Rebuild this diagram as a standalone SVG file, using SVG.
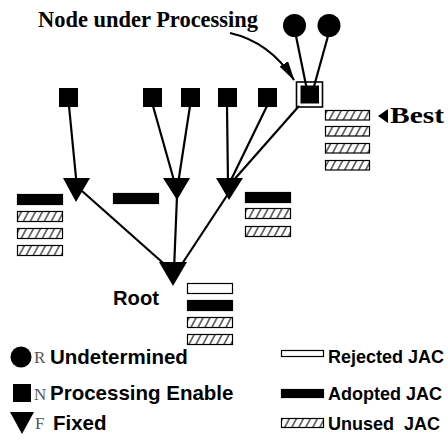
<svg xmlns="http://www.w3.org/2000/svg" width="448" height="442" viewBox="0 0 448 442">
  <style>
    .edge { stroke: #000; stroke-width: 2.2; fill: none; }
    .node { fill: #000; }
    .jac { stroke: #000; stroke-width: 1.2; }
    .unused { fill: url(#hatch); }
    .adopted { fill: #000; }
    .rejected { fill: #fff; }
    .title { font-family: "Liberation Serif", "Times New Roman", serif; font-weight: bold; font-size: 23px; fill: #000; }
    .label { font-family: "Liberation Sans", Arial, sans-serif; font-weight: bold; font-size: 20.5px; fill: #000; }
    .jac-label { font-family: "Liberation Sans", Arial, sans-serif; font-weight: bold; font-size: 18px; fill: #000; }
    .key { font-family: "Liberation Serif", "Times New Roman", serif; font-size: 17px; fill: #555; }
  </style>
  <defs>
    <pattern id="hatch" patternUnits="userSpaceOnUse" width="7" height="10" patternTransform="skewX(-28)">
      <rect width="7" height="10" fill="#fff"/>
      <line x1="1" y1="0" x2="1" y2="10" stroke="#000" stroke-width="1.2"/>
    </pattern>
    <marker id="head" viewBox="0 0 20 10" refX="19" refY="5" markerWidth="20" markerHeight="10" markerUnits="userSpaceOnUse" orient="auto">
      <path d="M0,0 L20,5 L0,10 Z" fill="#000"/>
    </marker>
  </defs>

  <!-- callout -->
  <text class="title" x="38" y="27" textLength="220" lengthAdjust="spacingAndGlyphs">Node under Processing</text>
  <path class="edge" d="M230,33 Q270,42 294,80" stroke-width="2" marker-end="url(#head)"/>

  <!-- connectors -->
  <g id="edges" class="edge">
    <line x1="296" y1="36" x2="307" y2="90"/>
    <line x1="328" y1="36" x2="313" y2="90"/>
    <line x1="69" y1="106" x2="77" y2="188"/>
    <line x1="153" y1="106" x2="175" y2="184"/>
    <line x1="190" y1="106" x2="178" y2="184"/>
    <line x1="227" y1="106" x2="228" y2="184"/>
    <line x1="267" y1="106" x2="230" y2="182"/>
    <line x1="299" y1="106" x2="232" y2="182"/>
    <line x1="82" y1="191" x2="171" y2="270"/>
    <line x1="177" y1="196" x2="174" y2="270"/>
    <line x1="228" y1="194" x2="178" y2="270"/>
  </g>

  <!-- undetermined nodes -->
  <g id="r1"><circle class="node" cx="294.5" cy="25.5" r="11.5"/></g>
  <g id="r2"><circle class="node" cx="329" cy="25.5" r="11.5"/></g>

  <!-- processing-enabled nodes -->
  <g id="n1"><rect class="node" x="59" y="88" width="19" height="19"/></g>
  <g id="n2"><rect class="node" x="143" y="88" width="19" height="19"/></g>
  <g id="n3"><rect class="node" x="181" y="88" width="19" height="19"/></g>
  <g id="n4"><rect class="node" x="218" y="88" width="19" height="19"/></g>
  <g id="n5"><rect class="node" x="258" y="88" width="19" height="19"/></g>
  <g id="n6">
    <rect x="296.5" y="82" width="26" height="25" fill="none" stroke="#000" stroke-width="1.6"/>
    <rect class="node" x="300.5" y="85.5" width="18.5" height="18"/>
  </g>

  <!-- fixed nodes -->
  <g id="f1"><polygon class="node" points="63,178 90,178 76,202"/></g>
  <g id="f2"><polygon class="node" points="163,178 190,178 177,200"/></g>
  <g id="f3"><polygon class="node" points="216,178 243,178 229,200"/></g>
  <g id="root">
    <polygon class="node" points="159,262 187,262 173,286"/>
    <text class="label" x="113" y="305" font-size="24" textLength="46" lengthAdjust="spacingAndGlyphs">Root</text>
  </g>

  <!-- JAC lists -->
  <g id="jac-best">
    <rect class="jac unused" x="325.5" y="110.5" width="44" height="9.5"/>
    <rect class="jac unused" x="325.5" y="126.5" width="44" height="9.5"/>
    <rect class="jac unused" x="325.5" y="143.5" width="44" height="9.5"/>
    <rect class="jac unused" x="325.5" y="160.5" width="44" height="9.5"/>
    <polygon points="378,116 388,109 388,123" fill="#000"/>
    <text class="title" x="390" y="123" font-size="25" textLength="54" lengthAdjust="spacingAndGlyphs">Best</text>
  </g>
  <g id="jac-f1">
    <rect class="jac adopted" x="17.5" y="194.5" width="45" height="10"/>
    <rect class="jac unused" x="17.5" y="211.5" width="45" height="10"/>
    <rect class="jac unused" x="17.5" y="228.5" width="45" height="10"/>
    <rect class="jac unused" x="17.5" y="245.5" width="45" height="10"/>
  </g>
  <g id="jac-f2">
    <rect class="jac adopted" x="113.5" y="193.5" width="45" height="10"/>
  </g>
  <g id="jac-f3">
    <rect class="jac adopted" x="245.5" y="192.5" width="45" height="10"/>
    <rect class="jac unused" x="245.5" y="208.5" width="45" height="10"/>
    <rect class="jac unused" x="245.5" y="226.5" width="45" height="10"/>
  </g>
  <g id="jac-root">
    <rect class="jac rejected" x="187.5" y="283.5" width="45" height="10"/>
    <rect class="jac adopted" x="187.5" y="300.5" width="45" height="10"/>
    <rect class="jac unused" x="187.5" y="317.5" width="45" height="10"/>
    <rect class="jac unused" x="187.5" y="334.5" width="45" height="10"/>
  </g>

  <!-- legend: node states -->
  <g id="legend-nodes">
    <circle class="node" cx="21" cy="357" r="10.5"/>
    <text class="key" x="34" y="363">R</text>
    <text class="label" x="50" y="364">Undetermined</text>
    <rect class="node" x="13" y="384" width="18" height="18"/>
    <text class="key" x="34" y="400">N</text>
    <text class="label" x="50" y="400">Processing Enable</text>
    <polygon class="node" points="10,412 34,412 22,434"/>
    <text class="key" x="35" y="429">F</text>
    <text class="label" x="53" y="430">Fixed</text>
  </g>

  <!-- legend: JAC states -->
  <g id="legend-jac">
    <rect class="jac rejected" x="281.5" y="350.5" width="42" height="6"/>
    <text class="jac-label" x="328" y="363">Rejected JAC</text>
    <rect class="jac adopted" x="281.5" y="389.5" width="42" height="8"/>
    <text class="jac-label" x="328" y="400">Adopted JAC</text>
    <rect class="jac unused" x="281.5" y="418.5" width="42" height="9"/>
    <text class="jac-label" x="328" y="430" xml:space="preserve">Unused  JAC</text>
  </g>
</svg>
